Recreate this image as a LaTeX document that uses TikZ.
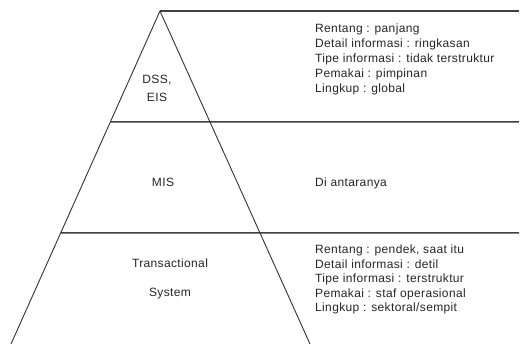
\documentclass[tikz,border=0pt]{standalone}
\usepackage{fontspec}
\setmainfont{Liberation Sans}[LetterSpace=3]
\usetikzlibrary{calc}
\begin{document}
\begin{tikzpicture}[x=1pt,y=-1pt,
  rule/.style={draw=black!75,line width=1.5pt},
  side/.style={draw=black!80,line width=0.9pt},
  lbl/.style={font=\fontsize{12}{14}\selectfont,inner sep=0pt,text=black!85},
  info/.style={lbl,anchor=base west}]
\useasboundingbox[fill=white] (0,0) rectangle (520,344);
% pyramid outline
\coordinate (apex) at (160,11);
\coordinate (bl) at (11,344);
\coordinate (br) at (310,344);
\coordinate (l1) at ($(apex)!111/333!(bl)$);
\coordinate (l2) at ($(apex)!222/333!(bl)$);
\coordinate (e0) at (519,11);
\coordinate (e1) at (519,122);
\coordinate (e2) at (519,233);
% level separators running out to the description column
\draw[rule] (apex) -- (e0);
\draw[rule] (l1) -- (e1);
\draw[rule] (l2) -- (e2);
\draw[side] (bl) -- (apex) -- (br);
% level names
\node[lbl,anchor=base] (dss) at (157,84) {DSS,};
\node[lbl,anchor=base] (eis) at (157,102) {EIS};
\node[lbl,anchor=base] (mis) at (163,187) {MIS};
\node[lbl,anchor=base] (ts1) at (170,268) {Transactional};
\node[lbl,anchor=base] (ts2) at (170,297) {System};
% descriptions
\node[info] (t1) at (315,33) {Rentang : panjang};
\node[info] (t2) at (315,48) {Detail informasi : ringkasan};
\node[info] (t3) at (315,63) {Tipe informasi : tidak terstruktur};
\node[info] (t4) at (315,78) {Pemakai : pimpinan};
\node[info] (t5) at (315,93) {Lingkup : global};
\node[info] (m1) at (315,187) {Di antaranya};
\node[info] (b1) at (315,254) {Rentang : pendek, saat itu};
\node[info] (b2) at (315,269) {Detail informasi : detil};
\node[info] (b3) at (315,283) {Tipe informasi : terstruktur};
\node[info] (b4) at (315,298) {Pemakai : staf operasional};
\node[info] (b5) at (315,312) {Lingkup : sektoral/sempit};
\end{tikzpicture}
\end{document}
